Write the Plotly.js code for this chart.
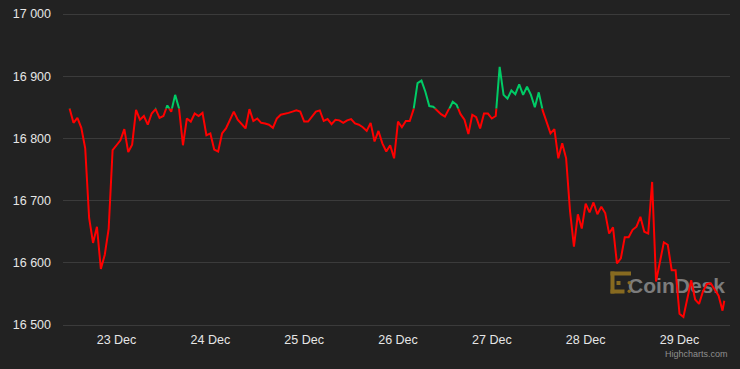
<!DOCTYPE html>
<html>
<head>
<meta charset="utf-8">
<script src="https://cdn.plot.ly/plotly-3.0.1.min.js"></script>
<style>
  html, body { margin: 0; padding: 0; background: #222222; }
  #chart { width: 740px; height: 369px; }
</style>
</head>
<body>
<div id="chart"></div>
<script>
// ---- data (BTC/USD, hourly) ----
const startTime = '2022-12-22T12:00:00';
const lastTime = '2022-12-29T11:27:00';
const prices = [
  16848, 16825, 16833, 16817, 16784, 16672, 16632, 16658, 16590, 16613,
  16655, 16781, 16789, 16797, 16815, 16778, 16790, 16846, 16830, 16836,
  16822, 16840, 16847, 16833, 16836, 16853, 16843, 16870, 16848, 16789,
  16832, 16827, 16840, 16836, 16841, 16805, 16808, 16782, 16779, 16808,
  16816, 16830, 16843, 16830, 16823, 16816, 16847, 16828, 16832, 16825,
  16824, 16822, 16817, 16832, 16838, 16839, 16841, 16843, 16845, 16843,
  16827, 16827, 16836, 16843, 16845, 16828, 16831, 16823, 16830, 16829,
  16825, 16829, 16831, 16824, 16822, 16818, 16812, 16825, 16795, 16812,
  16792, 16779, 16789, 16768, 16827, 16818, 16828, 16828, 16847, 16889,
  16893, 16875, 16852, 16851, 16845, 16839, 16835, 16846, 16859, 16854,
  16839, 16830, 16807, 16838, 16834, 16816, 16840, 16840, 16832, 16836,
  16915, 16870, 16864, 16877, 16871, 16887, 16870, 16883, 16870, 16850,
  16874, 16845, 16827, 16808, 16815, 16768, 16792, 16768, 16683, 16626,
  16678, 16655, 16695, 16681, 16697, 16678, 16690, 16680, 16647, 16657,
  16599, 16607, 16641, 16641, 16653, 16658, 16674, 16650, 16647, 16730,
  16570, 16604, 16633, 16629, 16588, 16588, 16518, 16513, 16542, 16572,
  16541, 16534, 16554, 16566, 16567, 16558, 16547, 16523,
  16539
];
const threshold = prices[0];           // zone split: green above, red below
const yTicksMin = 16500, yTicksMax = 17000;
const xRange = ['2022-12-22T10:19:00', '2022-12-29T12:55:00'];

// ---- times ----
const t0 = new Date(startTime + 'Z').getTime();
const times = prices.map((p, i) => {
  if (i === prices.length - 1) return lastTime.replace('T', ' ');
  return new Date(t0 + i * 3600000).toISOString().slice(0, 19).replace('T', ' ');
});

// ---- layout geometry ----
const W = 740, H = 369;
const mL = 63, mR = 10, mT = 8, mB = 37;
const plotH = H - mT - mB;
// pixel positions of the 17 000 and 16 500 gridlines in the reference
const yTopGrid = 14, yBotGrid = 325;
const pxPerUnit = (yBotGrid - yTopGrid) / (yTicksMax - yTicksMin);
const R1 = yTicksMax + (yTopGrid - mT) / pxPerUnit;
const R0 = yTicksMin - ((H - mB) - yBotGrid) / pxPerUnit;
const split = (threshold - R0) / (R1 - R0);

const plotW = W - mL - mR;
const px = (x) => (x - mL) / plotW;
const py = (y) => ((H - mB) - y) / plotH;

const font = 'Liberation Sans, Arial, Helvetica, sans-serif';
const gridColor = '#3b3b3b';
const tickColor = '#e6e6e6';

const yCommon = {
  tickmode: 'linear', tick0: 0, dtick: 100,
  tickformat: ',',
  showgrid: true, gridcolor: gridColor, gridwidth: 1,
  zeroline: false, showline: false, ticks: '',
  ticklabelstandoff: 11,
  tickfont: { family: font, size: 12.5, color: tickColor },
  anchor: 'x', fixedrange: true
};

const traces = [
  {
    x: times, y: prices, type: 'scatter', mode: 'lines',
    xaxis: 'x', yaxis: 'y',
    line: { color: '#ff0000', width: 2 },
    hoverinfo: 'skip'
  },
  {
    x: times, y: prices, type: 'scatter', mode: 'lines',
    xaxis: 'x', yaxis: 'y2',
    line: { color: '#00cc66', width: 2 },
    hoverinfo: 'skip'
  }
];

const gold = '#876a20';
const layout = {
  width: W, height: H,
  paper_bgcolor: '#222222',
  plot_bgcolor: 'rgba(0,0,0,0)',
  margin: { l: mL, r: mR, t: mT, b: mB, pad: 0 },
  showlegend: false,
  separators: '. ',
  font: { family: font, color: tickColor, size: 12.5 },
  xaxis: {
    type: 'date', range: xRange,
    tickmode: 'linear', tick0: '2022-12-23', dtick: 86400000,
    tickformat: '%-d %b',
    showgrid: false, zeroline: false, showline: false, ticks: '',
    ticklabelstandoff: -2,
    tickfont: { family: font, size: 12.5, color: tickColor },
    anchor: 'y', fixedrange: true
  },
  yaxis: Object.assign({}, yCommon, { domain: [0, split], range: [R0, threshold] }),
  yaxis2: Object.assign({}, yCommon, { domain: [split, 1], range: [threshold, R1] }),
  shapes: [
    // CoinDesk watermark text
    {
      type: 'rect', xref: 'paper', yref: 'paper', layer: 'below',
      x0: px(633), x1: px(720), y0: py(294), y1: py(272),
      line: { width: 0 }, fillcolor: 'rgba(0,0,0,0)',
      label: { text: 'CoinDesk', textposition: 'middle center',
               font: { family: font, size: 21, color: '#7c7c7c', weight: 'bold' } }
    },
    // CoinDesk logo (gold bracket of dots)
    { type: 'rect', xref: 'paper', yref: 'paper', layer: 'below', line: { width: 0 }, fillcolor: gold,
      x0: px(610.5), x1: px(631), y0: py(275.5), y1: py(271.5) },
    { type: 'rect', xref: 'paper', yref: 'paper', layer: 'below', line: { width: 0 }, fillcolor: gold,
      x0: px(610.5), x1: px(614.5), y0: py(293.5), y1: py(271.5) },
    { type: 'rect', xref: 'paper', yref: 'paper', layer: 'below', line: { width: 0 }, fillcolor: gold,
      x0: px(610.5), x1: px(624.5), y0: py(293.5), y1: py(289.5) },
    { type: 'rect', xref: 'paper', yref: 'paper', layer: 'below', line: { width: 0 }, fillcolor: gold,
      x0: px(616.5), x1: px(620.5), y0: py(285), y1: py(281) },
    { type: 'circle', xref: 'paper', yref: 'paper', layer: 'below', line: { width: 0 }, fillcolor: gold,
      x0: px(627.5), x1: px(631), y0: py(284.5), y1: py(281) },
    { type: 'circle', xref: 'paper', yref: 'paper', layer: 'below', line: { width: 0 }, fillcolor: gold,
      x0: px(627.5), x1: px(631), y0: py(293), y1: py(289.5) }
  ],
  annotations: [
    {
      text: 'Highcharts.com', xref: 'paper', yref: 'paper',
      x: px(730), y: py(354), xanchor: 'right', yanchor: 'middle',
      showarrow: false,
      font: { family: font, size: 9, color: '#8f8f8f' }
    }
  ]
};

Plotly.newPlot('chart', traces, layout, { staticPlot: true, displayModeBar: false });
</script>
</body>
</html>
